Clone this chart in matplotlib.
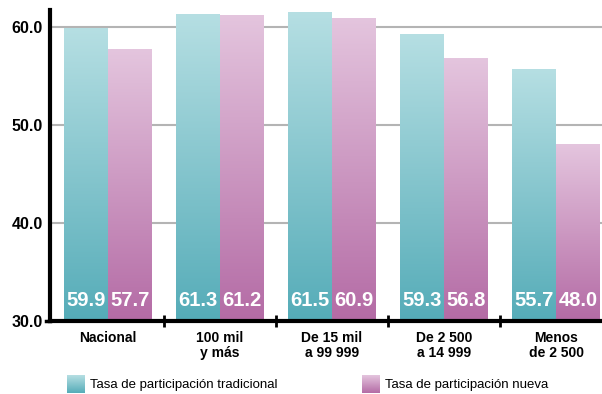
import numpy as np
import matplotlib
matplotlib.use("Agg")
import matplotlib.pyplot as plt
from matplotlib.colors import LinearSegmentedColormap
from matplotlib.patches import Rectangle

categories  = ["Nacional", "100 mil\ny más", "De 15 mil\na 99 999",
               "De 2 500\na 14 999", "Menos\nde 2 500"]
tradicional = [59.9, 61.3, 61.5, 59.3, 55.7]
nueva       = [57.7, 61.2, 60.9, 56.8, 48.0]
labels      = ["Tasa de participación tradicional", "Tasa de participación nueva"]

TEAL = LinearSegmentedColormap.from_list("teal", ["#55acb8", "#b6dfe3"])
PINK = LinearSegmentedColormap.from_list("pink", ["#b46ba5", "#e4c5de"])
FONT = ["Liberation Sans", "DejaVu Sans"]

YMIN, YMAX = 30, 61.7
W = 0.39

fig = plt.figure(figsize=(6.02, 3.94), dpi=100)
ax = fig.add_axes([50 / 602, 1 - 321 / 394, 552 / 602, 311 / 394])

grad = np.linspace(0, 1, 256).reshape(-1, 1)


def gbar(x0, h, cmap):
    rect = Rectangle((x0, YMIN), W, h - YMIN, facecolor="none", edgecolor="none")
    ax.add_patch(rect)
    im = ax.imshow(grad, cmap=cmap, origin="lower", aspect="auto",
                   extent=[x0, x0 + W, YMIN, h], zorder=2)
    im.set_clip_path(rect)


x = np.arange(len(categories))
for i in x:
    gbar(i - W, tradicional[i], TEAL)
    gbar(i, nueva[i], PINK)
    ax.text(i - W / 2, 32.1, f"{tradicional[i]:.1f}", color="white", ha="center",
            va="center", fontsize=14.5, fontweight="bold", family=FONT, zorder=3)
    ax.text(i + W / 2, 32.1, f"{nueva[i]:.1f}", color="white", ha="center",
            va="center", fontsize=14.5, fontweight="bold", family=FONT, zorder=3)

ax.set_xlim(-0.518, 4.41)
ax.set_ylim(YMIN, YMAX)

for y in [40, 50, 60]:
    ax.axhline(y, color="#b4b4b4", lw=1.5, zorder=1)

ax.set_yticks([30, 40, 50, 60])
ax.set_yticklabels([f"{v:.1f}" for v in [30, 40, 50, 60]], family=FONT,
                   fontweight="bold", fontsize=11.5)
ax.tick_params(axis="y", length=0, pad=5)
ax.set_xticks([0.5, 1.5, 2.5, 3.5])
ax.set_xticklabels([])
ax.tick_params(axis="x", direction="inout", length=8, width=2)
for i, c in enumerate(categories):
    ax.text(i, 29.0, c, ha="center", va="top", family=FONT, fontweight="bold",
            fontsize=10, linespacing=1.15)
ax.plot([-0.518, -0.518 - 0.04], [30, 30], color="black", lw=2.5, clip_on=False)

for s in ["top", "right"]:
    ax.spines[s].set_visible(False)
ax.spines["left"].set_linewidth(3)
ax.spines["bottom"].set_linewidth(3)

# legend
for (lx, cmap, lab) in [(67, TEAL, labels[0]), (362, PINK, labels[1])]:
    lax = fig.add_axes([lx / 602, 1 / 394, 18 / 602, 18 / 394])
    lax.imshow(grad, cmap=cmap, origin="lower", aspect="auto")
    lax.axis("off")
    fig.text((lx + 23) / 602, 9 / 394, lab, va="center", ha="left",
             family=FONT, fontsize=9.5)

fig.savefig("out.png", dpi=100)
